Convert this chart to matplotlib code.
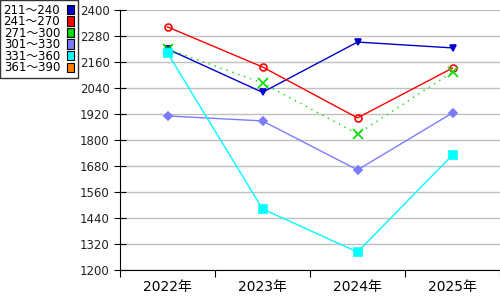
import matplotlib
matplotlib.use("Agg")
import matplotlib.pyplot as plt
from matplotlib.patches import Patch

plt.rcParams['font.family'] = ['DejaVu Sans', 'Noto Sans CJK JP']

years = ['2022年', '2023年', '2024年', '2025年']
labels = ['211～240', '241～270', '271～300', '301～330', '331～360', '361～390']
colors = ['#0000cc', '#ff0000', '#00dd00', '#7b7bff', '#00ffff', '#ff8000']

s211 = [2220, 2020, 2252, 2225]
s241 = [2322, 2137, 1902, 2132]
s271 = [2220, 2063, 1828, 2114]
s301 = [1911, 1888, 1662, 1925]
s331 = [2202, 1482, 1283, 1731]
series = [s211, s241, s271, s301, s331]
markers = ['v', 'o', 'x', 'D', 's']
styles = ['-', '-', (0, (1, 3.5)), '-', '-']
sizes = [4.5, 5, 6.5, 4, 6]

fig = plt.figure(figsize=(5, 3), dpi=100)
ax = fig.add_axes([0.24, 0.1, 0.76, 0.8667])

x = range(len(years))
for vals, c, m, ls, ms in zip(series, colors, markers, styles, sizes):
    mfc = 'none' if m == 'o' else c
    ax.plot(x, vals, color=c, lw=1, linestyle=ls, marker=m, markersize=ms,
            markerfacecolor=mfc, markeredgecolor=c, markeredgewidth=1.2)

ax.set_ylim(1200, 2400)
ax.set_yticks(range(1200, 2401, 120))
ax.set_xlim(-0.5, 3.5)
ax.set_xticks([-0.5, 0.5, 1.5, 2.5, 3.5])
ax.set_xticklabels([])
ax.set_xticks(list(x), minor=True)
ax.set_xticklabels(years, minor=True)
ax.tick_params(axis='x', which='major', direction='out', length=5, color='black')
ax.tick_params(axis='x', which='minor', length=0, pad=7)
ax.tick_params(axis='y', direction='inout', length=8)
ax.tick_params(labelsize=8.5, labelcolor='#222222')
ax.yaxis.grid(True, color='#c0c0c0', lw=1)
ax.set_axisbelow(True)
for s in ['top', 'right']:
    ax.spines[s].set_visible(False)

handles = [Patch(facecolor=c, edgecolor='black', lw=0.8) for c in colors]
leg = fig.legend(handles, labels, loc='upper left', bbox_to_anchor=(0.0, 1.0),
                 markerfirst=False, fontsize=8.5, frameon=True, fancybox=False,
                 edgecolor='black', handlelength=0.6, handleheight=0.85,
                 handletextpad=0.6, labelspacing=-0.12, borderpad=0.3,
                 borderaxespad=0)
leg.get_frame().set_linewidth(1)

fig.savefig('out.png', dpi=100)
